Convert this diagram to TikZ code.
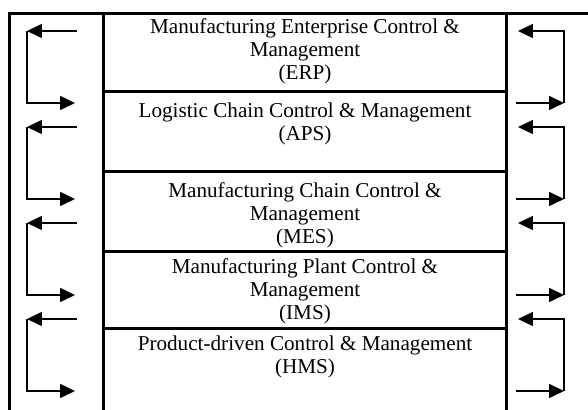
\documentclass[tikz,border=0pt]{standalone}
\usepackage{fontspec}
\setmainfont{Liberation Serif}
\usetikzlibrary{arrows.meta}
\tikzset{>={Triangle[length=9pt,width=8.4pt]}}
\tikzset{
    frame/.style={line width=1.8pt},
    flow/.style={->, line width=1pt},
    layer/.style={anchor=base, align=center, inner sep=0pt, font=\fontsize{12.7}{13.8}\selectfont}
}

\begin{document}
\begin{tikzpicture}[x=0.6pt,y=-0.6pt]
    \useasboundingbox (0,0) rectangle (588,410);

    % Frame and columns
    \draw[frame] (9.5,410) -- (9.5,13.5) -- (588,13.5);
    \draw[frame] (103.3,13.5) -- (103.3,410);
    \draw[frame] (506.7,13.5) -- (506.7,410);

    % Layer separators
    \draw[frame] (103.3,91.5) -- (506.7,91.5);
    \draw[frame] (103.3,172) -- (506.7,172);
    \draw[frame] (103.3,252) -- (506.7,252);
    \draw[frame] (103.3,329) -- (506.7,329);

    % Layers
    \node[layer] (erp) at (305,80) {Manufacturing Enterprise Control \&\\ Management\\ (ERP)};
    \node[layer] (aps) at (305,141) {Logistic Chain Control \& Management\\ (APS)};
    \node[layer] (mes) at (305,244) {Manufacturing Chain Control \&\\ Management\\ (MES)};
    \node[layer] (ims) at (305,320) {Manufacturing Plant Control \&\\ Management\\ (IMS)};
    \node[layer] (hms) at (305,374) {Product-driven Control \& Management\\ (HMS)};

    % Feedback loops, left side going down, right side going up
    \foreach \i/\t/\b in {1/31/103, 2/127/199, 3/223/295, 4/319/391} {
        \coordinate (lin\i) at (77,\t);
        \coordinate (ltop\i) at (27,\t);
        \coordinate (lbot\i) at (27,\b);
        \coordinate (lout\i) at (75,\b);
        \draw[flow] (lin\i) -- (ltop\i);
        \draw[flow] (ltop\i) -- (lbot\i) -- (lout\i);

        \coordinate (rin\i) at (516,\b);
        \coordinate (rbot\i) at (564,\b);
        \coordinate (rtop\i) at (564,\t);
        \coordinate (rout\i) at (518,\t);
        \draw[flow] (rin\i) -- (rbot\i);
        \draw[flow] (rbot\i) -- (rtop\i) -- (rout\i);
    }

\end{tikzpicture}
\end{document}
